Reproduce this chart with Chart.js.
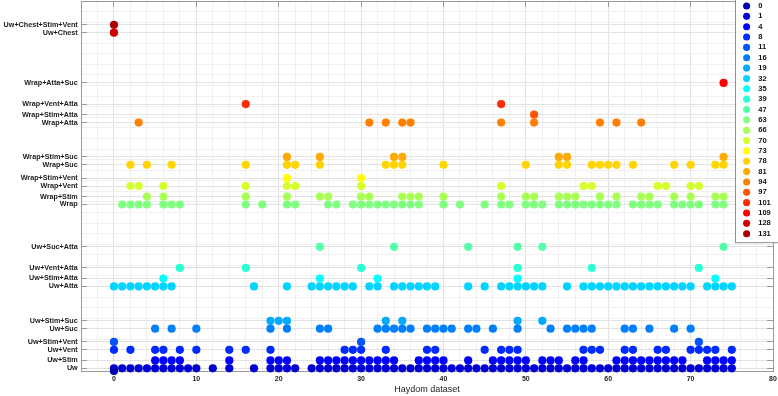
<!DOCTYPE html>
<html>
<head>
<meta charset="utf-8">
<script src="https://cdn.jsdelivr.net/npm/chart.js@4.4.1/dist/chart.umd.min.js"></script>
<style>
  html, body { margin: 0; padding: 0; background: #fff; }
  #chart { display: block; }
</style>
</head>
<body>
<canvas id="chart" width="778" height="396"></canvas>
<script>
// y positions of the named conditions
const tickValues = [1, 4, 8, 11, 16, 19, 32, 35, 39, 47, 63, 66, 70, 73, 78, 81, 94, 97, 101, 109, 128, 131];
const tickNames = [
  "Uw", "Uw+Stim", "Uw+Vent", "Uw+Stim+Vent", "Uw+Suc", "Uw+Stim+Suc",
  "Uw+Atta", "Uw+Stim+Atta", "Uw+Vent+Atta", "Uw+Suc+Atta",
  "Wrap", "Wrap+Stim", "Wrap+Vent", "Wrap+Stim+Vent", "Wrap+Suc", "Wrap+Stim+Suc",
  "Wrap+Atta", "Wrap+Stim+Atta", "Wrap+Vent+Atta", "Wrap+Atta+Suc",
  "Uw+Chest", "Uw+Chest+Stim+Vent",
];

// legend entries (one series per value)
const legendValues = [0, 1, 4, 8, 11, 16, 19, 32, 35, 39, 47, 63, 66, 70, 73, 78, 81, 94, 97, 101, 109, 128, 131];

// x positions (Haydom dataset index) for each series
const xAt0 = [0];
const xAt1 = [0, 1, 2, 3, 4, 5, 6, 7, 8, 9, 10, 12, 14, 17, 19, 20, 21, 22, 24, 25, 26, 27, 28, 29, 30,
  31, 32, 33, 34, 35, 36, 37, 38, 39, 40, 41, 42, 43, 44, 45, 46, 47, 48, 49, 50, 51, 52, 53, 54,
  55, 56, 57, 58, 59, 60, 61, 62, 63, 64, 65, 66, 67, 68, 69, 70, 71, 72, 73, 74, 75];
const xAt4 = [5, 6, 7, 8, 14, 19, 20, 21, 25, 26, 27, 28, 29, 30, 31, 32, 33, 34, 37, 38, 39, 40, 43,
  46, 47, 48, 49, 50, 52, 53, 54, 56, 57, 61, 62, 63, 64, 65, 66, 67, 68, 69, 72, 73, 74, 75];
const xAt8 = [0, 2, 5, 6, 8, 10, 14, 16, 19, 28, 29, 30, 33, 38, 39, 45, 47, 48, 49, 57, 58, 59, 62,
  63, 66, 67, 70, 71, 72, 73, 75];
const xAt11 = [0, 30, 71];
const xAt16 = [5, 7, 10, 19, 21, 25, 26, 32, 33, 34, 35, 36, 38, 39, 40, 41, 43, 44, 46, 49, 53, 55,
  56, 57, 58, 62, 63, 65, 68, 70];
const xAt19 = [19, 20, 21, 33, 35, 49, 52];
const xAt32 = [0, 1, 2, 3, 4, 5, 6, 7, 17, 21, 24, 25, 26, 27, 28, 29, 31, 32, 34, 35, 36, 37, 38, 39,
  43, 45, 47, 48, 49, 50, 51, 52, 55, 57, 58, 59, 60, 61, 62, 63, 64, 65, 66, 67, 68, 69, 70, 72,
  73, 74, 75];
const xAt35 = [6, 25, 32, 49, 73];
const xAt39 = [8, 16, 30, 49, 58, 71];
const xAt47 = [25, 34, 43, 49, 52, 74];
const xAt63 = [1, 2, 3, 4, 6, 7, 8, 16, 18, 21, 22, 26, 27, 29, 30, 31, 32, 33, 34, 35, 36, 37, 40,
  42, 45, 47, 48, 50, 51, 52, 54, 55, 56, 57, 58, 59, 60, 61, 63, 64, 65, 66, 68, 69, 70, 71, 73, 74];
const xAt66 = [4, 6, 16, 21, 25, 26, 30, 31, 35, 36, 37, 40, 47, 50, 51, 54, 55, 56, 59, 61, 64, 65,
  68, 70, 73, 74];
const xAt70 = [2, 3, 6, 16, 21, 22, 30, 47, 57, 58, 66, 67, 70, 71];
const xAt73 = [21, 30];
const xAt78 = [2, 4, 7, 16, 21, 22, 25, 33, 34, 35, 40, 50, 54, 55, 58, 59, 60, 61, 63, 68, 70, 73, 74];
const xAt81 = [21, 25, 34, 35, 54, 55, 74];
const xAt94 = [3, 31, 33, 35, 36, 47, 51, 59, 61, 64];
const xAt97 = [51];
const xAt101 = [16, 47];
const xAt109 = [74];
const xAt128 = [0];
const xAt131 = [0];

const seriesX = [xAt0, xAt1, xAt4, xAt8, xAt11, xAt16, xAt19, xAt32, xAt35, xAt39, xAt47, xAt63,
  xAt66, xAt70, xAt73, xAt78, xAt81, xAt94, xAt97, xAt101, xAt109, xAt128, xAt131];

// jet(23)
const colors = ["#0000aa", "#0000d4", "#0000ff", "#002bff", "#0055ff", "#0080ff", "#00aaff", "#00d4ff",
  "#00ffff", "#2bffd4", "#55ffaa", "#80ff80", "#aaff55", "#d4ff2b", "#ffff00", "#ffd400", "#ffaa00",
  "#ff8000", "#ff5500", "#ff2b00", "#ff0000", "#d40000", "#aa0000"];

const FONT = "'Liberation Sans', Arial, sans-serif";
const axisColor = "#9a9a9a";
const majorGrid = "#e2e2e2";
const minorGrid = "#f0f0f0";

// minor y grid every 4 units plus the named rows
const yGridTicks = [];
for (let v = 0; v <= 140; v += 4) yGridTicks.push(v);
tickValues.forEach((v) => { if (!yGridTicks.includes(v)) yGridTicks.push(v); });
yGridTicks.sort((a, b) => a - b);

const datasets = legendValues.map((v, i) => ({
  label: String(v),
  data: seriesX[i].map((x) => ({ x: x, y: v })),
  backgroundColor: colors[i],
  borderColor: colors[i],
  borderWidth: 0,
  pointRadius: 4.1,
  pointHoverRadius: 4.1,
  clip: false,
}));

const isTen = (v) => Math.abs(v % 10) < 1e-6;

// legend sits on top of the plot, in the upper right corner
const legendBox = {
  id: "legendBox",
  afterLayout(chart) {
    const lg = chart.legend;
    const area = chart.chartArea;
    lg.left = area.right - 33;
    lg.right = chart.width + 10;
    lg.top = area.top - 1.6;
    lg.bottom = area.bottom;
  },
  afterDraw(chart) {
    const lg = chart.legend;
    const ctx = chart.ctx;
    const h = lg.columnSizes[0].height + 2 * lg.options.labels.padding;
    ctx.save();
    ctx.fillStyle = "#fff";
    ctx.fillRect(lg.left - 4.5, lg.top - 5, 60, h + 4.5);
    ctx.strokeStyle = "#8f8f8f";
    ctx.lineWidth = 1;
    ctx.strokeRect(lg.left - 4.5, lg.top - 5, 60, h + 4.5);
    ctx.restore();
    lg.draw();
  },
};

new Chart(document.getElementById("chart"), {
  type: "scatter",
  data: { datasets: datasets },
  options: {
    responsive: false,
    animation: false,
    devicePixelRatio: 1,
    layout: { padding: 0, autoPadding: false },
    plugins: {
      tooltip: { enabled: false },
      legend: {
        position: "chartArea",
        align: "start",
        labels: {
          usePointStyle: true,
          pointStyle: "circle",
          boxHeight: 5,
          padding: 2.85,
          color: "#111",
          font: { family: FONT, size: 7.5, weight: "bold" },
          generateLabels: (chart) =>
            chart.data.datasets.map((ds, i) => ({
              text: "  " + ds.label,
              fillStyle: ds.backgroundColor,
              strokeStyle: ds.backgroundColor,
              fontColor: "#111",
              lineWidth: 0,
              pointStyle: "circle",
              hidden: false,
              datasetIndex: i,
            })),
        },
      },
    },
    scales: {
      x: {
        type: "linear",
        position: "bottom",
        min: -4,
        max: 80,
        ticks: {
          stepSize: 2,
          autoSkip: false,
          maxRotation: 0,
          padding: 10.3,
          color: "#222",
          font: { family: FONT, size: 7, weight: "bold" },
          callback: (v) => (isTen(v) ? String(Math.round(v)) : ""),
        },
        grid: {
          color: (c) => (c.tick && isTen(c.tick.value) ? majorGrid : minorGrid),
          tickLength: -6,
          tickColor: (c) => (c.tick && isTen(c.tick.value) ? axisColor : "rgba(0,0,0,0)"),
        },
        border: { color: axisColor },
        title: {
          display: true,
          text: "Haydom dataset",
          color: "#222",
          font: { family: FONT, size: 9 },
          padding: { top: 0, bottom: 1 },
        },
        afterFit: (s) => { s.height = 25; s.paddingLeft = 0; s.paddingRight = 0; },
      },
      x2: {
        type: "linear",
        position: "top",
        min: -4,
        max: 80,
        ticks: { display: false, stepSize: 10 },
        grid: { drawOnChartArea: false, tickLength: -6, tickColor: axisColor },
        border: { color: axisColor },
        afterFit: (s) => { s.height = 1; s.paddingLeft = 0; s.paddingRight = 0; },
      },
      y: {
        type: "linear",
        position: "left",
        min: 0,
        max: 140,
        afterBuildTicks: (s) => { s.ticks = yGridTicks.map((v) => ({ value: v })); },
        ticks: {
          autoSkip: false,
          padding: 9.3,
          color: "#1a1a1a",
          font: { family: FONT, size: 7.2, weight: "bold" },
          callback: (v) => {
            const i = tickValues.indexOf(v);
            return i >= 0 ? tickNames[i] : "";
          },
        },
        grid: {
          color: (c) => (c.tick && tickValues.includes(c.tick.value) ? majorGrid : minorGrid),
          tickLength: -6,
          tickColor: (c) => (c.tick && tickValues.includes(c.tick.value) ? axisColor : "rgba(0,0,0,0)"),
        },
        border: { color: axisColor },
        afterFit: (s) => { s.width = 81; s.paddingTop = 0; s.paddingBottom = 0; },
      },
      y2: {
        type: "linear",
        position: "right",
        min: 0,
        max: 140,
        afterBuildTicks: (s) => { s.ticks = tickValues.map((v) => ({ value: v })); },
        ticks: { display: false },
        grid: { drawOnChartArea: false, tickLength: -6, tickColor: axisColor },
        border: { color: axisColor },
        afterFit: (s) => { s.width = 5; s.paddingTop = 0; s.paddingBottom = 0; },
      },
    },
  },
  plugins: [legendBox],
});
</script>
</body>
</html>
